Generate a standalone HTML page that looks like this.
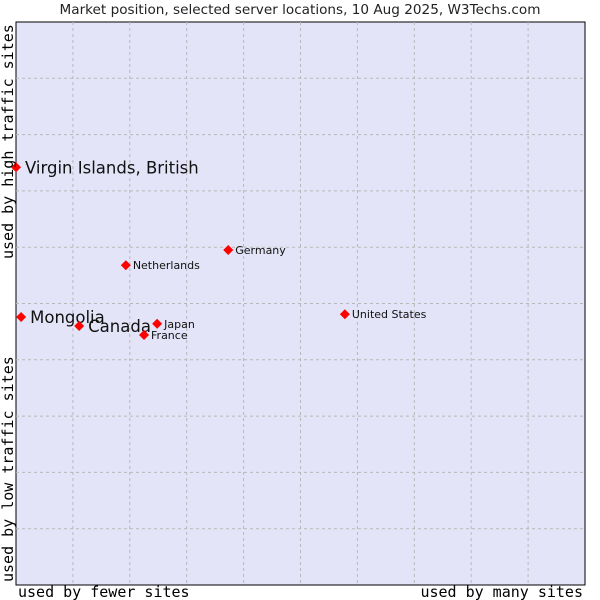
<!DOCTYPE html>
<html><head><meta charset="utf-8"><style>
body{margin:0;background:#fff;}
svg{display:block;}
</style></head><body>
<svg id="chart" width="600" height="600">
<rect x="0" y="0" width="600" height="600" fill="#fff"/>
<text x="300" y="14" text-anchor="middle" font-family="DejaVu Sans, sans-serif" font-size="13.6" fill="#222">Market position, selected server locations, 10 Aug 2025, W3Techs.com</text>
<rect x="16" y="22" width="569" height="563" fill="#e4e4f8" stroke="#000" stroke-width="1"/>
<g id="grid"></g>
<g id="points"></g>
<text x="18" y="597" font-family="DejaVu Sans Mono, monospace" font-size="15" fill="#000">used by fewer sites</text>
<text x="583" y="597" text-anchor="end" font-family="DejaVu Sans Mono, monospace" font-size="15" fill="#000">used by many sites</text>
<text transform="translate(13,582) rotate(-90)" font-family="DejaVu Sans Mono, monospace" font-size="15" fill="#000">used by low traffic sites</text>
<text transform="translate(13,259) rotate(-90)" font-family="DejaVu Sans Mono, monospace" font-size="15" fill="#000">used by high traffic sites</text>
</svg>
<script>
const names = ["Virgin Islands, British","Mongolia","Canada","France","Japan","Netherlands","Germany","United States"];
const xValues = [0.0,0.09,1.11,2.25,2.48,1.93,3.73,5.78];
const yValues = [7.42,4.76,4.60,4.44,4.64,5.68,5.95,4.81];
const labelSizes = [16.5,16.5,16.5,11,11,11,11,11];
const gridTicks = [1,2,3,4,5,6,7,8,9];

const X0=16,X1=585,Y0=585,Y1=22;
function sx(v){return X0+(X1-X0)*v/10;}
function sy(v){return Y0-(Y0-Y1)*v/10;}
const NS="http://www.w3.org/2000/svg";
const grid=document.getElementById('grid');
gridTicks.forEach(t=>{
  const v=document.createElementNS(NS,'line');
  v.setAttribute('x1',sx(t));v.setAttribute('x2',sx(t));v.setAttribute('y1',Y1);v.setAttribute('y2',Y0);
  v.setAttribute('stroke','#b8b8b8');v.setAttribute('stroke-dasharray','3,3');
  
  
  grid.appendChild(v);
  const h=document.createElementNS(NS,'line');
  h.setAttribute('y1',sy(t));h.setAttribute('y2',sy(t));h.setAttribute('x1',X0);h.setAttribute('x2',X1);
  h.setAttribute('stroke','#b8b8b8');h.setAttribute('stroke-dasharray','3,3');
  
  
  grid.appendChild(h);
});
const pts=document.getElementById('points');
names.forEach((n,i)=>{
  const x=sx(xValues[i]),y=sy(yValues[i]);
  const d=document.createElementNS(NS,'polygon');
  d.setAttribute('points',`${x},${y-5} ${x+5},${y} ${x},${y+5} ${x-5},${y}`);
  d.setAttribute('fill','#f00');
  
  
  pts.appendChild(d);
  const t=document.createElementNS(NS,'text');
  t.setAttribute('x',x+(labelSizes[i]>12?9:7));
  t.setAttribute('y',y+(labelSizes[i]>12?6:4));
  t.setAttribute('font-family','DejaVu Sans, sans-serif');
  t.setAttribute('font-size',labelSizes[i]);
  t.setAttribute('fill','#111');
  t.textContent=n;
  
  
  pts.appendChild(t);
});
</script>
</body></html>
